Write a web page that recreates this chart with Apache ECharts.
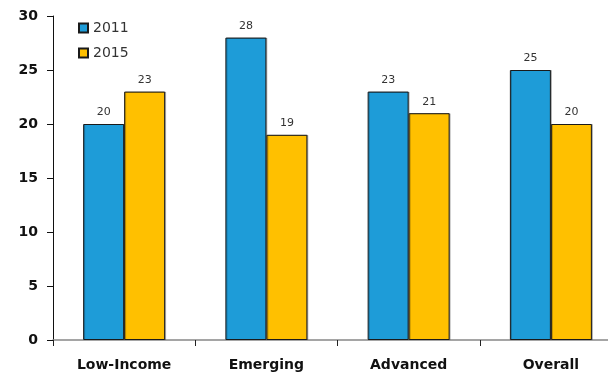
<!DOCTYPE html>
<html>
<head>
<meta charset="utf-8">
<script src="https://cdn.jsdelivr.net/npm/echarts@6/dist/echarts.min.js"></script>
<style>
  html, body { margin: 0; padding: 0; background: #fff; }
  #chart { width: 608px; height: 375px; }
</style>
</head>
<body>
<div id="chart"></div>
<script>
// Categories and values per year
const categories = ['Low-Income', 'Emerging', 'Advanced', 'Overall'];
const values2011 = [20, 28, 23, 25];
const values2015 = [23, 19, 21, 20];
const yTicks = [0, 5, 10, 15, 20, 25, 30];

const chart = echarts.init(document.getElementById('chart'));

function barSeries(name, data, color) {
  return {
    name: name,
    type: 'bar',
    data: data,
    barWidth: 41,
    barGap: '0%',
    itemStyle: {
      color: color,
      borderColor: '#1a1a1a',
      borderWidth: 1,
      shadowColor: 'rgba(0,0,0,0.25)',
      shadowOffsetX: 1,
      shadowOffsetY: 0,
      shadowBlur: 0
    },
    label: {
      show: true,
      position: 'top',
      distance: 6,
      color: '#333',
      fontSize: 11,
      fontFamily: 'DejaVu Sans'
    }
  };
}

chart.setOption({
  animation: false,
  // the plot area runs past the right edge of the canvas
  grid: { left: 53, width: 569, top: 16, bottom: 35, outerBoundsMode: 'none' },
  legend: {
    orient: 'vertical',
    left: 73,
    top: 15,
    itemWidth: 9,
    itemHeight: 9,
    itemGap: 9,
    icon: 'rect',
    textStyle: { fontSize: 14, color: '#333', fontFamily: 'DejaVu Sans', lineHeight: 16 },
    data: ['2011', '2015']
  },
  xAxis: {
    type: 'category',
    data: categories,
    axisLine: { lineStyle: { color: '#888', width: 1.5 } },
    axisTick: { show: true, length: 6, lineStyle: { color: '#222' } },
    axisLabel: {
      fontSize: 14,
      fontWeight: 'bold',
      color: '#111',
      margin: 18,
      fontFamily: 'DejaVu Sans'
    }
  },
  yAxis: {
    type: 'value',
    min: 0,
    max: 30,
    interval: 5,
    splitLine: { show: false },
    axisLine: { show: true, lineStyle: { color: '#111', width: 1 } },
    axisTick: { show: true, length: 6, lineStyle: { color: '#111' } },
    axisLabel: {
      fontSize: 14,
      fontWeight: 'bold',
      color: '#111',
      margin: 15,
      fontFamily: 'DejaVu Sans',
      formatter: v => (yTicks.includes(v) ? String(v) : '')
    }
  },
  series: [
    barSeries('2011', values2011, '#1E9CD8'),
    barSeries('2015', values2015, '#FFC000')
  ]
});
</script>
</body>
</html>
